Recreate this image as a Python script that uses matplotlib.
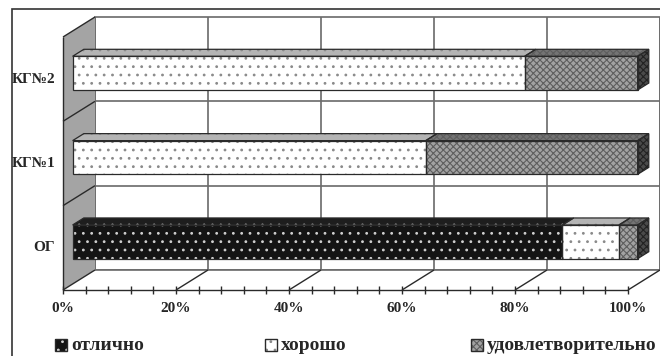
import matplotlib
matplotlib.use('Agg')
import matplotlib.pyplot as plt
import matplotlib.patches as mpatches

plt.rcParams['font.family'] = ['Liberation Serif', 'DejaVu Serif']
plt.rcParams['font.weight'] = 'bold'
plt.rcParams['hatch.linewidth'] = 0.8

groups = ['ОГ', 'КГ№1', 'КГ№2']
grades = ['отлично', 'хорошо', 'удовлетворительно']
excellent = [86.7, 0.0, 0.0]
good = [10.0, 62.5, 80.0]
satisfactory = [3.3, 37.5, 20.0]
x_ticks = [0, 20, 40, 60, 80, 100]
tick_labels = ['0%', '20%', '40%', '60%', '80%', '100%']

# front face, top face, hatch, hatch colour
styles = [
    ('#141414', '#1e1e1e', '..', '#d0d0d0'),
    ('#ffffff', '#b4b4b4', '..', '#8a8a8a'),
    ('#a2a2a2', '#747474', 'xxxxx', '#5e5e5e'),
]
edge = '#2a2a2a'
grid = '#6a6a6a'
txt = '#262626'

W, H = 660, 356
fig = plt.figure(figsize=(W / 100, H / 100), dpi=100)
ax = fig.add_axes([63 / W, 66 / H, 565 / W, 253 / H])
ax.set_xlim(0, 100)
ax.set_ylim(-0.5, len(groups) - 0.5)
ax.axis('off')

# depth of the box: 32 px right, 20 px up
dx = 32 / (565 / 100)
dy = 20 / (253 / len(groups))
top = len(groups) - 0.5
py = 253 / len(groups)  # pixels per category unit


def poly(pts, **kw):
    p = mpatches.Polygon(pts, closed=True, clip_on=False, **kw)
    ax.add_patch(p)
    return p


def line(xs, ys, **kw):
    ax.plot(xs, ys, clip_on=False, solid_capstyle='butt', **kw)


# back wall
poly([(dx, -0.5 + dy), (100 + dx, -0.5 + dy), (100 + dx, top + dy), (dx, top + dy)],
     facecolor='white', edgecolor=grid, lw=1.2, zorder=1)
for t in x_ticks:
    line([t + dx, t + dx], [-0.5 + dy, top + dy], color=grid, lw=1.2, zorder=1)
for b in [0.5, 1.5]:
    line([dx, 100 + dx], [b + dy, b + dy], color=grid, lw=1.2, zorder=1)

# left wall
poly([(0, -0.5), (dx, -0.5 + dy), (dx, top + dy), (0, top)],
     facecolor='#a4a4a4', edgecolor='none', zorder=1)
line([0, 0], [-0.5, top], color=edge, lw=1.0, zorder=2)
line([0, dx], [top, top + dy], color=edge, lw=1.0, zorder=2)
for b in [0.5, 1.5]:
    line([0, dx], [b, b + dy], color=edge, lw=1.0, zorder=2)

# floor
poly([(0, -0.5), (100, -0.5), (100 + dx, -0.5 + dy), (dx, -0.5 + dy)],
     facecolor='white', edgecolor='none', zorder=1)
line([dx, 100 + dx], [-0.5 + dy, -0.5 + dy], color=grid, lw=1.2, zorder=1)
line([0, 100], [-0.5, -0.5], color=edge, lw=1.0, zorder=2)
for t in x_ticks:
    line([t, t + dx], [-0.5, -0.5 + dy], color=edge, lw=1.0, zorder=2)
tk = 4 / py
for t in range(0, 101, 4):
    line([t, t], [-0.5 - tk, -0.5 + tk], color=edge, lw=1.0, zorder=2)
for t, lab in zip(x_ticks, tick_labels):
    ax.text(t, -0.5 - 19 / py, lab, ha='center', va='center',
            fontsize=11, color=txt)

# stacked 3d bars
h = 0.4
d0, d1 = 0.3, 0.65
series = [excellent, good, satisfactory]
for i, g in enumerate(groups):
    ax.text(-1.4, i, g, ha='right', va='center', fontsize=11, color=txt)
    vals = [s[i] for s in series]
    last = max(k for k, v in enumerate(vals) if v > 0)
    left = 0.0
    for k, v in enumerate(vals):
        if v <= 0:
            continue
        front_c, top_c, hatch, hatch_c = styles[k]
        l, r = left, left + v
        fx, fy = d0 * dx, d0 * dy
        bx, by = d1 * dx, d1 * dy
        yb, yt = i - h / 2, i + h / 2
        front = [(l + fx, yb + fy), (r + fx, yb + fy), (r + fx, yt + fy), (l + fx, yt + fy)]
        roof = [(l + fx, yt + fy), (r + fx, yt + fy), (r + bx, yt + by), (l + bx, yt + by)]
        poly(front, facecolor=front_c, edgecolor=hatch_c, hatch=hatch, lw=0, zorder=4)
        poly(front, fill=False, edgecolor=edge, lw=0.9, zorder=5)
        poly(roof, facecolor=top_c, edgecolor=hatch_c, hatch=hatch, lw=0, zorder=4)
        poly(roof, fill=False, edgecolor=edge, lw=0.9, zorder=5)
        if k == last:
            side = [(r + fx, yb + fy), (r + bx, yb + by), (r + bx, yt + by), (r + fx, yt + fy)]
            poly(side, facecolor='#4a4a4a', edgecolor='#222222', hatch=hatch, lw=0, zorder=4)
            poly(side, fill=False, edgecolor=edge, lw=0.9, zorder=5)
        left = r

# legend along the bottom
leg_x = [55, 265, 471]
for k, (name, x0) in enumerate(zip(grades, leg_x)):
    front_c, top_c, hatch, hatch_c = styles[k]
    fig.add_artist(mpatches.Rectangle((x0 / W, (H - 351) / H), 12 / W, 12 / H,
                                      transform=fig.transFigure, facecolor=front_c,
                                      edgecolor=hatch_c, hatch=hatch, lw=0))
    fig.add_artist(mpatches.Rectangle((x0 / W, (H - 351) / H), 12 / W, 12 / H,
                                      transform=fig.transFigure, fill=False,
                                      edgecolor=edge, lw=1.0))
    fig.text((x0 + 16) / W, (H - 350) / H, name, ha='left', va='baseline',
             fontsize=14, color=txt)

# outer frame, open to the right and bottom
fig.add_artist(mpatches.Rectangle((12 / W, -0.1), 1.2, (H - 9) / H + 0.1,
                                  transform=fig.transFigure, fill=False,
                                  edgecolor='#333333', lw=1.2))

fig.savefig('out.png', dpi=100)
